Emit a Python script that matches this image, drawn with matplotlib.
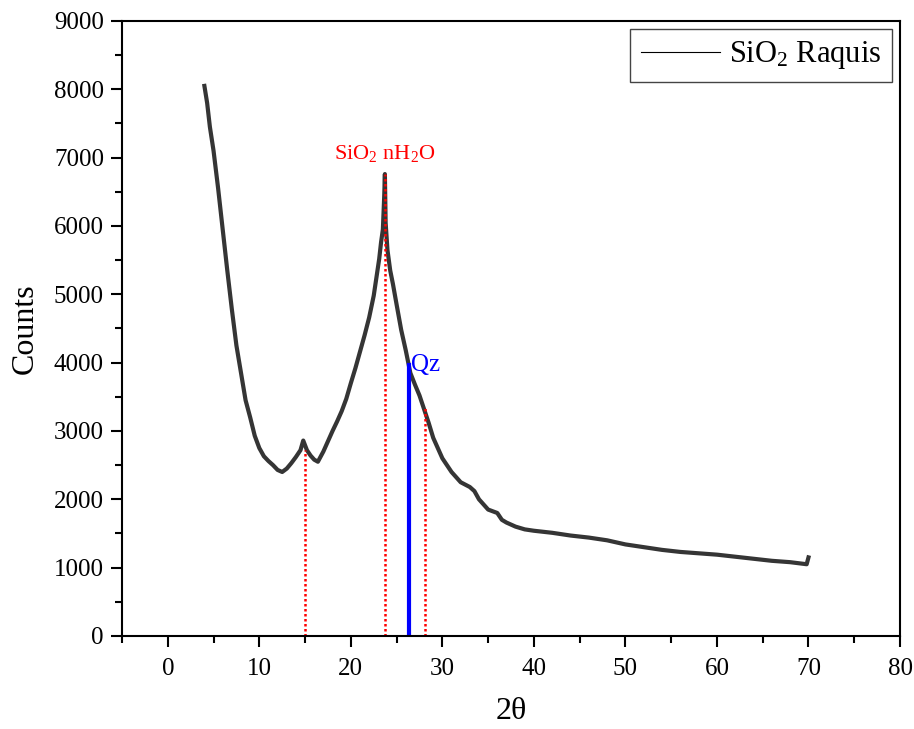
import matplotlib.pyplot as plt
from matplotlib.lines import Line2D

plt.rcParams['font.family'] = ['Liberation Serif', 'DejaVu Serif']
plt.rcParams['mathtext.fontset'] = 'custom'
plt.rcParams['mathtext.rm'] = 'Liberation Serif'
plt.rcParams['mathtext.it'] = 'Liberation Serif:italic'

# XRD pattern (2theta, counts)
two_theta = [4.0, 4.3, 4.6, 5.0, 5.5, 6.0, 6.5, 7.0, 7.5, 8.0, 8.5, 9.0, 9.5,
             10.0, 10.5, 11.0, 11.5, 12.0, 12.5, 13.0, 13.5, 14.0, 14.5, 14.8,
             15.2, 15.6, 16.0, 16.4, 17.0, 17.5, 18.0, 18.5, 19.0, 19.5, 20.0,
             20.5, 21.0, 21.5, 22.0, 22.5, 22.8, 23.1, 23.3, 23.5, 23.65, 23.72,
             23.8, 24.0, 24.3, 24.6, 25.0, 25.5, 26.0, 26.5, 27.0, 27.5, 28.0,
             28.5, 29.0, 29.5, 30.0, 31.0, 32.0, 33.0, 33.5, 34.0, 35.0, 36.0,
             36.5, 37.0, 38.0, 39.0, 40.0, 42.0, 44.0, 46.0, 48.0, 50.0, 52.0,
             54.0, 56.0, 58.0, 60.0, 62.0, 64.0, 66.0, 68.0, 69.8, 70.0]
counts = [8050, 7800, 7450, 7100, 6550, 5950, 5350, 4780, 4250, 3850, 3450, 3200, 2930,
          2750, 2630, 2560, 2500, 2430, 2400, 2450, 2530, 2620, 2720, 2860,
          2720, 2640, 2580, 2550, 2700, 2850, 3000, 3140, 3290, 3470, 3700,
          3920, 4160, 4400, 4660, 4980, 5250, 5520, 5760, 5950, 6450, 6760,
          6050, 5650, 5350, 5150, 4850, 4480, 4180, 3850, 3680, 3520, 3320,
          3120, 2900, 2750, 2600, 2400, 2250, 2180, 2120, 2000, 1850, 1800,
          1700, 1660, 1600, 1560, 1540, 1510, 1470, 1440, 1400, 1340, 1300,
          1260, 1230, 1210, 1190, 1160, 1130, 1100, 1080, 1050, 1150]

# reference lines (position, top)
ref_x = [15.0, 23.75, 28.1]
ref_top = [2720, 6760, 3330]
qz_x = 26.4
qz_top = 3970

fig = plt.figure(figsize=(9.14, 7.29), dpi=100)
ax = fig.add_axes([0.1335, 0.1276, 0.8512, 0.8436])

ax.plot(two_theta, counts, color='#353535', lw=3.0, solid_joinstyle='round')

for xv, top in zip(ref_x, ref_top):
    ax.plot([xv, xv], [0, top], color='red', ls=(0, (1, 1)), lw=1.8)
ax.plot([qz_x, qz_x], [0, qz_top], color='blue', lw=3)

ax.text(23.7, 7060, 'SiO$_2$ nH$_2$O', color='red', fontsize=16,
        ha='center', va='center')
ax.text(26.6, 3960, 'Qz', color='blue', fontsize=18, ha='left', va='center')

ax.set_xlim(-5, 80)
ax.set_ylim(0, 9000)
ax.set_xticks(range(0, 81, 10))
ax.set_xticks(range(-5, 81, 5), minor=True)
ax.set_yticks(range(0, 9001, 1000))
ax.set_yticks(range(0, 9001, 500), minor=True)
ax.tick_params(which='major', direction='out', length=8, width=1.5,
               labelsize=18, pad=5)
ax.tick_params(which='minor', direction='out', length=5, width=1.5)
ax.tick_params(axis='x', which='major', pad=8)
for s in ax.spines.values():
    s.set_linewidth(1.5)

ax.set_xlabel('2θ', fontsize=23, labelpad=12)
ax.set_ylabel('Counts', fontsize=23, labelpad=10)

handle = Line2D([], [], color='black', lw=0.8)
leg = ax.legend([handle], ['SiO$_2$ Raquis'], loc='upper right', fontsize=22,
                fancybox=False, framealpha=1, edgecolor='#444444',
                handlelength=2.6, handletextpad=0.3, borderpad=0.35,
                borderaxespad=0.25)
leg.get_frame().set_linewidth(1.0)

fig.savefig('out.png', dpi=100)
